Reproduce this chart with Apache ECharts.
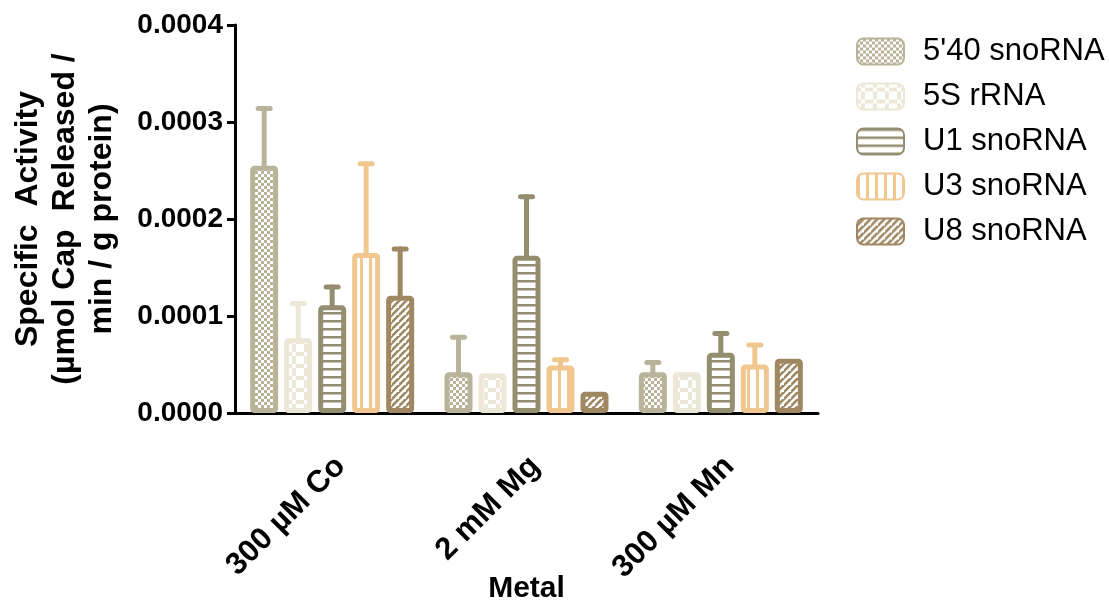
<!DOCTYPE html>
<html>
<head>
<meta charset="utf-8">
<script src="https://cdn.jsdelivr.net/npm/echarts@6/dist/echarts.min.js"></script>
<style>
  html, body { margin: 0; padding: 0; background: #ffffff; }
  #chart { width: 1109px; height: 604px; }
</style>
</head>
<body>
<div id="chart"></div>
<script>
// Metal conditions on the x axis
const categories = ['300 \u00b5M Co', '2 mM Mg', '300 \u00b5M Mn'];

// RNA substrates (one bar series each)
const seriesNames = ["5'40 snoRNA", '5S rRNA', 'U1 snoRNA', 'U3 snoRNA', 'U8 snoRNA'];

// Mean specific activity per metal (Co, Mg, Mn)
const mean540 = [0.000255, 0.000042, 0.000042];
const mean5S  = [0.000077, 0.000041, 0.000042];
const meanU1  = [0.000111, 0.000162, 0.000062];
const meanU3  = [0.000165, 0.000049, 0.000050];
const meanU8  = [0.000121, 0.000022, 0.000056];

// Upper error (SD); null where no bar is drawn
const err540 = [0.000059, 0.000036, 0.000010];
const err5S  = [0.000036, null, null];
const errU1  = [0.000019, 0.000061, 0.000020];
const errU3  = [0.000092, 0.000006, 0.000020];
const errU8  = [0.000048, null, null];

// Y axis range and tick step
const yMin = 0;
const yMax = 0.0004;
const yStep = 0.0001;

const means = [mean540, mean5S, meanU1, meanU3, meanU8];
const errs = [err540, err5S, errU1, errU3, errU8];

const colors = ['#b9b399', '#ece7d6', '#958d70', '#f0c88f', '#9f8762'];

// Fill patterns drawn on small canvases
function makeCanvas(w, h) {
  const c = document.createElement('canvas');
  c.width = w; c.height = h;
  const ctx = c.getContext('2d');
  ctx.fillStyle = '#ffffff';
  ctx.fillRect(0, 0, w, h);
  return [c, ctx];
}
function checkSmall(color) {
  const [c, ctx] = makeCanvas(6, 6);
  ctx.fillStyle = color;
  ctx.fillRect(0, 0, 3, 3);
  ctx.fillRect(3, 3, 3, 3);
  return c;
}
function checkLarge(color) {
  // chain of diamonds: colour with white squares on a diagonal lattice
  const [c, ctx] = makeCanvas(12, 12);
  ctx.fillStyle = color;
  ctx.fillRect(0, 0, 12, 12);
  ctx.fillStyle = '#ffffff';
  ctx.fillRect(0, 0, 4, 4);
  ctx.fillRect(8, 0, 4, 4);
  ctx.fillRect(4, 4, 4, 4);
  ctx.fillRect(0, 8, 4, 4);
  ctx.fillRect(8, 8, 4, 4);
  return c;
}
function hLines(color) {
  const [c, ctx] = makeCanvas(8, 8);
  ctx.fillStyle = color;
  ctx.fillRect(0, 0, 8, 2.5);
  return c;
}
function vLines(color) {
  const [c, ctx] = makeCanvas(9, 9);
  ctx.fillStyle = color;
  ctx.fillRect(0, 0, 3, 9);
  return c;
}
function diagLines(color) {
  const s = 7;
  const [c, ctx] = makeCanvas(s, s);
  ctx.strokeStyle = color;
  ctx.lineWidth = 2.6;
  ctx.beginPath();
  ctx.moveTo(-1, s + 1); ctx.lineTo(s + 1, -1);
  ctx.moveTo(-1 - s, s + 1); ctx.lineTo(1, -1);
  ctx.moveTo(s - 1, 2 * s + 1); ctx.lineTo(2 * s + 1, s - 1);
  ctx.stroke();
  return c;
}
const patternMakers = [checkSmall, checkLarge, hLines, vLines, diagLines];

// Bar geometry (border is drawn inside the bar rectangle)
const barWidth = 28;
const barBorder = 5;
const barStep = 34;

const barSeries = seriesNames.map((name, i) => ({
  name: name,
  type: 'bar',
  barWidth: barWidth,
  barGap: ((barStep - barWidth) / barWidth * 100).toFixed(2) + '%',
  data: means[i],
  z: 3,
  itemStyle: {
    color: { image: patternMakers[i](colors[i]), repeat: 'repeat' },
    borderColor: colors[i],
    borderWidth: barBorder,
    borderRadius: 2
  },
  emphasis: { disabled: true }
}));

const errorSeries = seriesNames.map((name, i) => ({
  name: name + ' SD',
  type: 'custom',
  z: 2,
  silent: true,
  data: means[i].map((m, k) => [k, m, errs[i][k] == null ? null : m + errs[i][k]]),
  renderItem: function (params, api) {
    const upper = api.value(2);
    if (upper == null || isNaN(upper)) return null;
    const off = (i - 2) * barStep;
    const base = api.coord([api.value(0), api.value(1)]);
    const top = api.coord([api.value(0), upper]);
    const x = base[0] + off;
    const style = { stroke: colors[i], lineWidth: 5, lineCap: 'round' };
    return {
      type: 'group',
      children: [
        { type: 'line', shape: { x1: x, y1: base[1] + 3, x2: x, y2: top[1] }, style: style },
        { type: 'line', shape: { x1: x - 6, y1: top[1], x2: x + 6, y2: top[1] }, style: style }
      ]
    };
  }
}));

const chart = echarts.init(document.getElementById('chart'), null, { renderer: 'canvas' });
const fontFamily = '"Liberation Sans", Arial, sans-serif';

chart.setOption({
  backgroundColor: '#ffffff',
  animation: false,
  textStyle: { fontFamily: fontFamily, color: '#000' },
  grid: { left: 235, right: 291, top: 25, bottom: 191, containLabel: false, outerBoundsMode: 'none' },
  legend: {
    data: seriesNames,
    orient: 'vertical',
    left: 851,
    top: 31,
    itemWidth: 47,
    itemHeight: 26,
    itemGap: 14,
    icon: 'roundRect',
    selectedMode: false,
    textStyle: { fontSize: 31, color: '#000', fontFamily: fontFamily, padding: [0, 0, 0, 14], lineHeight: 31 }
  },
  xAxis: {
    type: 'category',
    data: categories,
    name: 'Metal',
    nameLocation: 'middle',
    nameGap: 161,
    nameMoveOverlap: false,
    nameTextStyle: { fontSize: 30, fontWeight: 'bold', color: '#000' },
    axisLine: { lineStyle: { color: '#000', width: 3 } },
    axisTick: { alignWithLabel: true, length: 10, lineStyle: { color: '#000', width: 3 } },
    axisLabel: { rotate: 45, fontSize: 31, fontWeight: 'bold', color: '#000', margin: 57, interval: 0, padding: [0, -12, 0, 0] }
  },
  yAxis: {
    type: 'value',
    min: yMin,
    max: yMax,
    interval: yStep,
    name: 'Specific  Activity\n(\u00b5mol Cap  Released /\nmin / g protein)',
    nameLocation: 'middle',
    nameRotate: 90,
    nameGap: 114,
    nameTextStyle: { fontSize: 32, fontWeight: 'bold', color: '#000', lineHeight: 37, align: 'center' },
    splitLine: { show: false },
    axisLine: { show: true, lineStyle: { color: '#000', width: 3 } },
    axisTick: { show: true, length: 8, lineStyle: { color: '#000', width: 3 } },
    axisLabel: {
      fontSize: 28, fontWeight: 'bold', color: '#000', margin: 12,
      formatter: v => v.toFixed(4)
    }
  },
  series: barSeries.concat(errorSeries)
});
</script>
</body>
</html>
